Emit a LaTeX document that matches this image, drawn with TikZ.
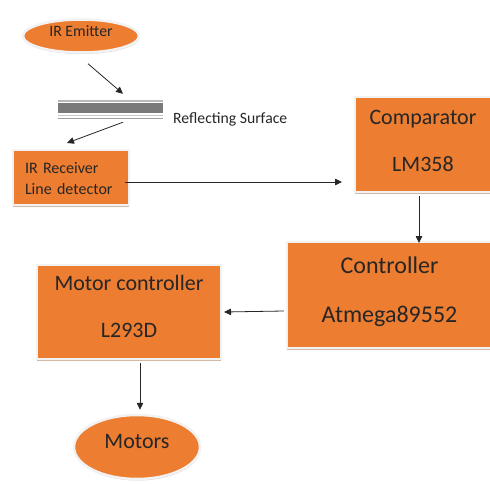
\documentclass[tikz,border=0pt]{standalone}
\usepackage{fontspec}
\setmainfont{Carlito}
\usetikzlibrary{arrows.meta,shadows,shapes.geometric}
\definecolor{myorange}{HTML}{ED7D31}
\definecolor{txt}{HTML}{262626}
\definecolor{rim}{HTML}{F2F2F2}
\definecolor{shade}{HTML}{C9A88F}
\newcommand{\liftline}[2]{\raisebox{#1}[0pt][0pt]{#2}}
\tikzset{
  obox/.style={rectangle, fill=myorange, draw=rim, line width=2pt, inner sep=0pt, text=txt, align=center,
    drop shadow={shadow xshift=-0.5pt, shadow yshift=-2pt, fill=shade, opacity=0.8}},
  oell/.style={ellipse, fill=myorange, draw=rim, line width=2.5pt, inner sep=0pt, text=txt,
    drop shadow={shadow xshift=0.5pt, shadow yshift=-1.5pt, fill=gray!40, opacity=0.8}},
  arr/.style={draw=black!85, line width=0.8pt, -{Triangle[length=7pt,width=6.5pt]}},
}
\begin{document}
\begin{tikzpicture}[x=1pt,y=-1pt]
\useasboundingbox (0,0) rectangle (490,484);
\fill[white] (0,0) rectangle (490,484);
\clip (0,0) rectangle (490,484);

% IR emitter
\node[oell, minimum width=116pt, minimum height=33pt, font=\fontsize{15.8pt}{18pt}\selectfont] (emitter) at (81,36) {\liftline{-1pt}{IR Emitter}};

% Reflecting surface
\node[rectangle, minimum width=105pt, minimum height=19pt, inner sep=0pt] (surface) at (110.5,109.5) {};
\draw[gray!55, line width=1.2pt] (58,101) -- (163,101);
\fill[black!52] (58,103.5) rectangle (163,113);
\draw[gray!45, line width=1pt] (58,115.5) -- (163,115.5);
\draw[gray!75, line width=1.3pt] (58,118.2) -- (163,118.2);
\node[anchor=base west, text=txt, font=\fontsize{15.7pt}{18pt}\selectfont, inner sep=0pt] (reflabel) at (173,124) {Reflecting Surface};

% IR receiver
\node[obox, minimum width=116pt, minimum height=55pt, text width=92pt, inner xsep=12pt, align=left,
      font=\fontsize{16pt}{21pt}\selectfont] (receiver) at (71,177.5) {\liftline{-6.5pt}{IR Receiver}\\\liftline{-6.5pt}{Line detector}};

% Comparator
\node[obox, minimum width=136pt, minimum height=95pt, font=\fontsize{22pt}{46.5pt}\selectfont] (comparator) at (423,144.5) {\liftline{-3.5pt}{Comparator}\\\liftline{-3.5pt}{LM358}};

% Controller
\node[obox, minimum width=205pt, minimum height=106pt, font=\fontsize{24pt}{49pt}\selectfont] (controller) at (389.5,295) {\liftline{-2.5pt}{Controller}\\\liftline{-2.5pt}{Atmega89552}};

% Motor controller
\node[obox, minimum width=184pt, minimum height=94pt, font=\fontsize{22pt}{47pt}\selectfont] (motorctrl) at (129,312) {\liftline{-2pt}{Motor controller}\\\liftline{-2pt}{L293D}};

% Motors
\node[oell, minimum width=126pt, minimum height=64pt, font=\fontsize{22pt}{26pt}\selectfont] (motors) at (137,447) {\liftline{-1pt}{Motors}};

% connectors
\draw[arr] ([shift={(7,10)}]emitter.south) -- ([shift={(12.5,-6)}]surface.north);
\draw[arr] ([shift={(12.5,3)}]surface.south) -- ([shift={(-4,-6)}]receiver.north);
\draw[arr] ([shift={(-5,4.5)}]receiver.east) -- ([shift={(-12,37.5)}]comparator.west);
\draw[arr] ([shift={(-4,3)}]comparator.south) -- ([shift={(29.5,2)}]controller.north);
\draw[arr] ([shift={(-2,16)}]controller.west) -- ([shift={(2,0)}]motorctrl.east);
\draw[arr] ([shift={(11,3)}]motorctrl.south) -- ([shift={(3,-4)}]motors.north);
\end{tikzpicture}
\end{document}
